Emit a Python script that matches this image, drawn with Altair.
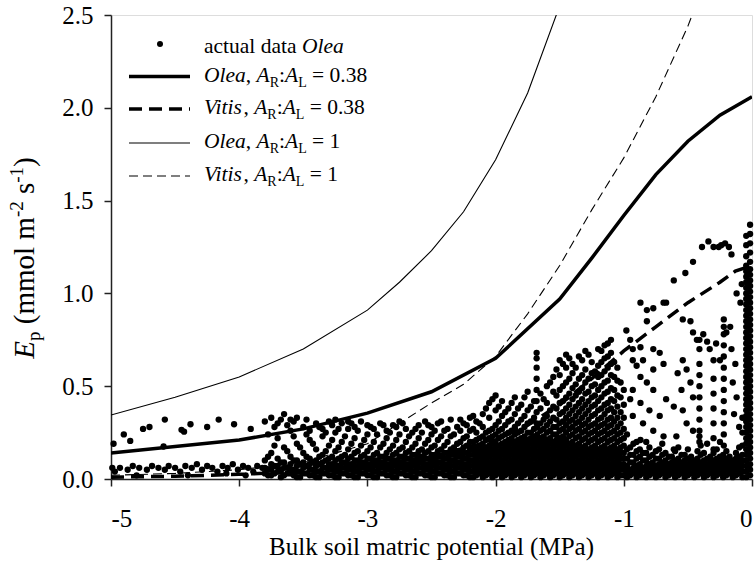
import altair as alt
import pandas as pd

# ---------------- model curves ----------------
OLEA_038_X = [-5, -4.5, -4, -3.5, -3, -2.5, -2, -1.5, -1.25, -1, -0.75, -0.5, -0.25, 0]
OLEA_038_Y = [0.14, 0.175, 0.21, 0.27, 0.355, 0.47, 0.65, 0.97, 1.19, 1.42, 1.64, 1.82, 1.96, 2.06]

VITIS_038_X = [-5, -4.5, -4, -3.5, -3, -2.5, -2, -1.75, -1.5, -1.25, -1, -0.75, -0.5, -0.25, -0.13, 0]
VITIS_038_Y = [0.01, 0.015, 0.025, 0.04, 0.07, 0.12, 0.21, 0.29, 0.40, 0.54, 0.69, 0.82, 0.95, 1.06, 1.12, 1.15]

OLEA_1_X = [-5, -4.5, -4, -3.5, -3, -2.75, -2.5, -2.25, -2, -1.75, -1.5]
OLEA_1_Y = [0.345, 0.44, 0.55, 0.70, 0.91, 1.06, 1.23, 1.44, 1.72, 2.08, 2.55]

VITIS_1_X = [-5, -4.5, -4, -3.5, -3, -2.75, -2.5, -2.25, -2, -1.75, -1.5, -1.25, -1, -0.75, -0.5, -0.4]
VITIS_1_Y = [0.02, 0.03, 0.05, 0.09, 0.19, 0.30, 0.41, 0.51, 0.66, 0.89, 1.15, 1.45, 1.73, 2.06, 2.44, 2.62]

# ---------------- measured points, Olea ----------------
LEFT_UPPER = [(-4.98, 0.19), (-4.90, 0.24), (-4.85, 0.205), (-4.75, 0.27), (-4.70, 0.28),
              (-4.58, 0.32), (-4.59, 0.175), (-4.45, 0.265), (-4.43, 0.255), (-4.38, 0.295),
              (-4.25, 0.28), (-4.16, 0.32), (-4.04, 0.295), (-3.91, 0.27)]

LEFT_BAND = [(-4.99, 0.06), (-4.97, 0.04), (-4.93, 0.06), (-4.87, 0.05), (-4.83, 0.07), (-4.78, 0.06),
             (-4.72, 0.05), (-4.68, 0.07), (-4.63, 0.06), (-4.58, 0.05), (-4.55, 0.07), (-4.50, 0.06),
             (-4.46, 0.04), (-4.42, 0.07), (-4.37, 0.06), (-4.33, 0.08), (-4.29, 0.05), (-4.25, 0.07),
             (-4.21, 0.06), (-4.17, 0.04), (-4.13, 0.07), (-4.09, 0.06), (-4.05, 0.08), (-4.01, 0.05),
             (-3.97, 0.07), (-3.93, 0.06), (-3.89, 0.04), (-3.86, 0.07), (-3.82, 0.06), (-4.80, 0.02),
             (-4.40, 0.02), (-4.10, 0.03), (-3.95, 0.02)]

MID_COLUMNS = [
    (-3.80, [0.03, 0.06, 0.10, 0.31]),
    (-3.75, [0.02, 0.05, 0.08, 0.14, 0.33]),
    (-3.70, [0.04, 0.07, 0.11, 0.22, 0.30]),
    (-3.65, [0.02, 0.06, 0.09, 0.17, 0.35]),
    (-3.60, [0.03, 0.05, 0.08, 0.12, 0.26, 0.32]),
    (-3.55, [0.01, 0.04, 0.07, 0.10, 0.19, 0.33]),
    (-3.50, [0.03, 0.06, 0.09, 0.14, 0.28]),
    (-3.45, [0.02, 0.05, 0.08, 0.11, 0.21, 0.26]),
    (-3.40, [0.01, 0.04, 0.07, 0.10, 0.16, 0.30]),
    (-3.35, [0.03, 0.06, 0.09, 0.13, 0.23, 0.27]),
    (-3.30, [0.02, 0.05, 0.08, 0.11, 0.18, 0.31]),
    (-3.25, [0.01, 0.04, 0.07, 0.10, 0.15, 0.25, 0.32]),
    (-3.20, [0.03, 0.06, 0.09, 0.12, 0.20, 0.30]),
    (-3.15, [0.02, 0.05, 0.08, 0.11, 0.16, 0.27, 0.31]),
    (-3.10, [0.01, 0.04, 0.07, 0.10, 0.14, 0.22, 0.28]),
    (-3.05, [0.03, 0.06, 0.09, 0.12, 0.18, 0.31]),
    (-3.00, [0.02, 0.05, 0.08, 0.11, 0.15, 0.24, 0.29]),
    (-2.95, [0.01, 0.04, 0.07, 0.10, 0.13, 0.20, 0.27]),
    (-2.90, [0.03, 0.06, 0.09, 0.12, 0.17, 0.30]),
    (-2.85, [0.02, 0.05, 0.08, 0.11, 0.14, 0.22, 0.26]),
    (-2.80, [0.01, 0.04, 0.07, 0.10, 0.13, 0.18, 0.29]),
    (-2.75, [0.03, 0.06, 0.09, 0.12, 0.16, 0.24, 0.31]),
    (-2.70, [0.02, 0.05, 0.08, 0.11, 0.14, 0.20, 0.27]),
    (-2.65, [0.01, 0.04, 0.07, 0.10, 0.13, 0.17, 0.25]),
    (-2.60, [0.03, 0.06, 0.09, 0.12, 0.15, 0.22, 0.29]),
    (-2.55, [0.02, 0.05, 0.08, 0.11, 0.14, 0.19, 0.31]),
    (-2.50, [0.01, 0.04, 0.07, 0.10, 0.13, 0.17, 0.24, 0.28]),
    (-2.45, [0.03, 0.06, 0.09, 0.12, 0.15, 0.21, 0.30]),
    (-2.40, [0.02, 0.05, 0.08, 0.11, 0.14, 0.18, 0.26]),
    (-2.35, [0.01, 0.04, 0.07, 0.10, 0.13, 0.16, 0.23, 0.32]),
    (-2.30, [0.03, 0.06, 0.09, 0.12, 0.15, 0.19, 0.28]),
    (-2.25, [0.02, 0.05, 0.08, 0.11, 0.14, 0.17, 0.22, 0.30]),
    (-2.20, [0.01, 0.04, 0.07, 0.10, 0.13, 0.16, 0.20, 0.26, 0.33]),
    (-2.15, [0.02, 0.05, 0.08, 0.11, 0.14, 0.17, 0.21, 0.25, 0.31]),
    (-2.10, [0.01, 0.04, 0.07, 0.10, 0.13, 0.16, 0.19, 0.23, 0.28, 0.35]),
    (-2.05, [0.03, 0.06, 0.09, 0.12, 0.15, 0.18, 0.22, 0.26, 0.33, 0.41]),
    (-2.00, [0.02, 0.05, 0.08, 0.11, 0.14, 0.17, 0.20, 0.24, 0.29, 0.37, 0.45]),
    (-1.95, [0.01, 0.04, 0.07, 0.10, 0.13, 0.16, 0.19, 0.23, 0.27, 0.34, 0.42]),
    (-1.90, [0.03, 0.06, 0.09, 0.12, 0.15, 0.18, 0.21, 0.25, 0.31, 0.38]),
    (-1.85, [0.02, 0.05, 0.08, 0.11, 0.14, 0.17, 0.20, 0.24, 0.28, 0.35, 0.44]),
    (-1.80, [0.01, 0.04, 0.07, 0.10, 0.13, 0.16, 0.19, 0.22, 0.26, 0.32, 0.40]),
    (-1.75, [0.03, 0.06, 0.09, 0.12, 0.15, 0.18, 0.21, 0.25, 0.30, 0.37, 0.47]),
    (-1.70, [0.02, 0.05, 0.08, 0.11, 0.14, 0.17, 0.20, 0.23, 0.27, 0.33, 0.42]),
    (-1.68, [0.30, 0.36, 0.42, 0.48, 0.54, 0.60, 0.65, 0.68]),
    (-1.65, [0.01, 0.04, 0.07, 0.10, 0.13, 0.16, 0.19, 0.22, 0.26, 0.30, 0.38, 0.46]),
    (-1.60, [0.03, 0.06, 0.09, 0.12, 0.15, 0.18, 0.21, 0.25, 0.29, 0.34, 0.41, 0.50]),
    (-1.55, [0.02, 0.05, 0.08, 0.11, 0.14, 0.17, 0.20, 0.24, 0.28, 0.33, 0.39, 0.47, 0.55]),
    (-1.50, [0.01, 0.04, 0.07, 0.10, 0.13, 0.16, 0.19, 0.22, 0.26, 0.30, 0.35, 0.41, 0.48, 0.56, 0.64]),
    (-1.45, [0.03, 0.06, 0.09, 0.12, 0.15, 0.18, 0.21, 0.25, 0.29, 0.33, 0.38, 0.44, 0.52, 0.60, 0.67]),
    (-1.40, [0.02, 0.05, 0.08, 0.11, 0.14, 0.17, 0.20, 0.24, 0.28, 0.32, 0.37, 0.43, 0.49, 0.57, 0.62]),
    (-1.35, [0.01, 0.04, 0.07, 0.10, 0.13, 0.16, 0.19, 0.23, 0.27, 0.31, 0.36, 0.41, 0.47, 0.54, 0.66]),
    (-1.30, [0.03, 0.06, 0.09, 0.12, 0.15, 0.18, 0.22, 0.26, 0.30, 0.35, 0.40, 0.46, 0.52, 0.59, 0.69]),
    (-1.25, [0.02, 0.05, 0.08, 0.11, 0.14, 0.17, 0.21, 0.25, 0.29, 0.34, 0.39, 0.44, 0.50, 0.57, 0.63]),
    (-1.20, [0.01, 0.04, 0.07, 0.10, 0.13, 0.16, 0.20, 0.24, 0.28, 0.32, 0.37, 0.42, 0.48, 0.55, 0.61, 0.70]),
    (-1.15, [0.03, 0.06, 0.09, 0.12, 0.15, 0.18, 0.22, 0.26, 0.30, 0.35, 0.40, 0.46, 0.52, 0.58, 0.65, 0.72]),
    (-1.10, [0.02, 0.05, 0.08, 0.11, 0.14, 0.17, 0.21, 0.25, 0.29, 0.33, 0.38, 0.43, 0.49, 0.56, 0.62, 0.68, 0.75]),
    (-1.05, [0.01, 0.04, 0.07, 0.10, 0.13, 0.16, 0.20, 0.24, 0.28, 0.33, 0.39, 0.45, 0.53, 0.60]),
    (-1.00, [0.02, 0.05, 0.08, 0.11, 0.14, 0.18, 0.22, 0.27, 0.33, 0.40, 0.48]),
]

MID_COLUMNS_B = [
    (-3.775, [0.02, 0.05, 0.12, 0.24]),
    (-3.725, [0.03, 0.07, 0.18, 0.28]),
    (-3.675, [0.01, 0.05, 0.09, 0.32]),
    (-3.625, [0.03, 0.06, 0.15, 0.29]),
    (-3.575, [0.02, 0.05, 0.10, 0.23, 0.31]),
    (-3.525, [0.01, 0.04, 0.08, 0.17]),
    (-3.475, [0.03, 0.07, 0.12, 0.24, 0.32]),
    (-3.425, [0.02, 0.05, 0.09, 0.19]),
    (-3.375, [0.01, 0.04, 0.08, 0.12, 0.28]),
    (-3.325, [0.03, 0.06, 0.10, 0.15, 0.25]),
    (-3.275, [0.02, 0.05, 0.08, 0.12, 0.21, 0.29]),
    (-3.225, [0.01, 0.04, 0.07, 0.11, 0.17, 0.27]),
    (-3.175, [0.03, 0.06, 0.09, 0.13, 0.23]),
    (-3.125, [0.02, 0.05, 0.08, 0.12, 0.19, 0.30]),
    (-3.075, [0.01, 0.04, 0.07, 0.10, 0.15, 0.26]),
    (-3.025, [0.03, 0.06, 0.09, 0.13, 0.21]),
    (-2.975, [0.02, 0.05, 0.08, 0.11, 0.17, 0.28]),
    (-2.925, [0.01, 0.04, 0.07, 0.10, 0.14, 0.24]),
    (-2.875, [0.03, 0.06, 0.09, 0.12, 0.19, 0.29]),
    (-2.825, [0.02, 0.05, 0.08, 0.11, 0.16, 0.25]),
    (-2.775, [0.01, 0.04, 0.07, 0.10, 0.14, 0.21, 0.28]),
    (-2.725, [0.03, 0.06, 0.09, 0.12, 0.17, 0.30]),
    (-2.675, [0.02, 0.05, 0.08, 0.11, 0.15, 0.23]),
    (-2.625, [0.01, 0.04, 0.07, 0.10, 0.13, 0.19, 0.27]),
    (-2.575, [0.03, 0.06, 0.09, 0.12, 0.16, 0.25]),
    (-2.525, [0.02, 0.05, 0.08, 0.11, 0.15, 0.21, 0.29]),
    (-2.475, [0.01, 0.04, 0.07, 0.10, 0.13, 0.18, 0.26]),
    (-2.425, [0.03, 0.06, 0.09, 0.12, 0.16, 0.23, 0.31]),
    (-2.375, [0.02, 0.05, 0.08, 0.11, 0.14, 0.20, 0.27]),
    (-2.325, [0.01, 0.04, 0.07, 0.10, 0.13, 0.17, 0.24]),
    (-2.275, [0.03, 0.06, 0.09, 0.12, 0.15, 0.20, 0.26, 0.32]),
    (-2.225, [0.02, 0.05, 0.08, 0.11, 0.14, 0.18, 0.23, 0.29]),
    (-2.175, [0.01, 0.04, 0.07, 0.10, 0.13, 0.16, 0.20, 0.27, 0.34]),
    (-2.125, [0.03, 0.06, 0.09, 0.12, 0.15, 0.18, 0.22, 0.30]),
    (-2.075, [0.02, 0.05, 0.08, 0.11, 0.14, 0.17, 0.21, 0.25, 0.38]),
    (-2.025, [0.01, 0.04, 0.07, 0.10, 0.13, 0.16, 0.19, 0.23, 0.27, 0.43]),
    (-1.975, [0.03, 0.06, 0.09, 0.12, 0.15, 0.18, 0.22, 0.26, 0.31, 0.39]),
    (-1.925, [0.02, 0.05, 0.08, 0.11, 0.14, 0.17, 0.20, 0.24, 0.29, 0.36]),
    (-1.875, [0.01, 0.04, 0.07, 0.10, 0.13, 0.16, 0.19, 0.22, 0.26, 0.32, 0.41]),
    (-1.825, [0.03, 0.06, 0.09, 0.12, 0.15, 0.18, 0.21, 0.25, 0.30, 0.38]),
    (-1.775, [0.02, 0.05, 0.08, 0.11, 0.14, 0.17, 0.20, 0.23, 0.28, 0.34, 0.44]),
    (-1.725, [0.01, 0.04, 0.07, 0.10, 0.13, 0.16, 0.19, 0.22, 0.25, 0.31, 0.39]),
    (-1.675, [0.03, 0.06, 0.09, 0.12, 0.15, 0.18, 0.21, 0.24, 0.28]),
    (-1.625, [0.02, 0.05, 0.08, 0.11, 0.14, 0.17, 0.20, 0.23, 0.27, 0.32, 0.43]),
    (-1.575, [0.01, 0.04, 0.07, 0.10, 0.13, 0.16, 0.19, 0.22, 0.26, 0.31, 0.37, 0.52]),
    (-1.525, [0.03, 0.06, 0.09, 0.12, 0.15, 0.18, 0.21, 0.24, 0.28, 0.32, 0.38, 0.45, 0.59]),
    (-1.475, [0.02, 0.05, 0.08, 0.11, 0.14, 0.17, 0.20, 0.23, 0.27, 0.31, 0.36, 0.42, 0.50, 0.62]),
    (-1.425, [0.01, 0.04, 0.07, 0.10, 0.13, 0.16, 0.19, 0.23, 0.27, 0.31, 0.35, 0.40, 0.46, 0.54, 0.65]),
    (-1.375, [0.03, 0.06, 0.09, 0.12, 0.15, 0.18, 0.22, 0.26, 0.30, 0.34, 0.39, 0.45, 0.51, 0.60]),
    (-1.325, [0.02, 0.05, 0.08, 0.11, 0.14, 0.17, 0.21, 0.25, 0.29, 0.33, 0.38, 0.43, 0.49, 0.56, 0.64]),
    (-1.275, [0.01, 0.04, 0.07, 0.10, 0.13, 0.16, 0.20, 0.24, 0.28, 0.32, 0.37, 0.42, 0.47, 0.54, 0.67]),
    (-1.225, [0.03, 0.06, 0.09, 0.12, 0.15, 0.18, 0.22, 0.26, 0.30, 0.35, 0.40, 0.45, 0.51, 0.58]),
    (-1.175, [0.02, 0.05, 0.08, 0.11, 0.14, 0.17, 0.21, 0.25, 0.29, 0.33, 0.38, 0.44, 0.50, 0.56, 0.63, 0.69]),
    (-1.125, [0.01, 0.04, 0.07, 0.10, 0.13, 0.16, 0.20, 0.24, 0.28, 0.32, 0.37, 0.41, 0.47, 0.53, 0.60, 0.66, 0.73]),
    (-1.075, [0.03, 0.06, 0.09, 0.12, 0.15, 0.18, 0.22, 0.26, 0.31, 0.36, 0.42, 0.48, 0.55, 0.63]),
    (-1.025, [0.02, 0.05, 0.08, 0.11, 0.14, 0.17, 0.21, 0.25, 0.30, 0.36, 0.44, 0.52]),
]

WET_BOTTOM_COLUMNS = [
    (-0.975, [0.01, 0.04, 0.07, 0.11, 0.16, 0.24]),
    (-0.95, [0.02, 0.05, 0.09, 0.13, 0.17]),
    (-0.925, [0.03, 0.06, 0.09, 0.13, 0.19]),
    (-0.90, [0.01, 0.04, 0.07, 0.11, 0.15, 0.20]),
    (-0.875, [0.02, 0.05, 0.08, 0.12, 0.16]),
    (-0.85, [0.03, 0.06, 0.10, 0.14]),
    (-0.825, [0.01, 0.04, 0.07, 0.10, 0.14, 0.20]),
    (-0.80, [0.02, 0.05, 0.08, 0.12, 0.17]),
    (-0.775, [0.03, 0.06, 0.09, 0.13]),
    (-0.75, [0.01, 0.04, 0.07, 0.11, 0.15]),
    (-0.725, [0.02, 0.05, 0.08, 0.11, 0.16]),
    (-0.70, [0.03, 0.06, 0.09, 0.13, 0.19]),
    (-0.675, [0.01, 0.04, 0.07, 0.10, 0.14]),
    (-0.65, [0.02, 0.05, 0.08, 0.12]),
    (-0.625, [0.03, 0.06, 0.09, 0.12]),
    (-0.60, [0.01, 0.04, 0.07, 0.10, 0.15]),
    (-0.575, [0.02, 0.05, 0.08, 0.11, 0.17]),
    (-0.55, [0.03, 0.06, 0.09, 0.13]),
    (-0.525, [0.01, 0.04, 0.07, 0.10, 0.13]),
    (-0.50, [0.02, 0.05, 0.08, 0.11, 0.16]),
    (-0.475, [0.03, 0.06, 0.09, 0.12]),
    (-0.45, [0.01, 0.04, 0.07, 0.10]),
    (-0.425, [0.02, 0.05, 0.08, 0.11, 0.15]),
    (-0.40, [0.03, 0.06, 0.09, 0.13, 0.18]),
    (-0.375, [0.01, 0.04, 0.07, 0.10, 0.14]),
    (-0.35, [0.02, 0.05, 0.08, 0.11]),
    (-0.325, [0.03, 0.06, 0.09, 0.12]),
    (-0.30, [0.01, 0.04, 0.07, 0.10, 0.14]),
    (-0.275, [0.02, 0.05, 0.08, 0.11, 0.16]),
    (-0.25, [0.03, 0.06, 0.09, 0.12]),
    (-0.225, [0.01, 0.04, 0.07, 0.10, 0.13]),
    (-0.20, [0.02, 0.05, 0.08, 0.11, 0.15]),
    (-0.175, [0.03, 0.06, 0.09, 0.12]),
    (-0.15, [0.01, 0.04, 0.07, 0.10]),
    (-0.125, [0.02, 0.05, 0.08, 0.11, 0.14]),
    (-0.10, [0.03, 0.06, 0.09, 0.12, 0.17]),
    (-0.075, [0.01, 0.04, 0.07, 0.10, 0.13, 0.18, 0.25, 0.33]),
    (-0.41, [0.20, 0.26, 0.32, 0.38, 0.44, 0.50, 0.56, 0.62, 0.70, 0.75]),
    (-0.30, [0.22, 0.30, 0.38, 0.46, 0.54, 0.64]),
    (-0.22, [0.18, 0.24, 0.30, 0.36, 0.42, 0.48, 0.54, 0.60, 0.66, 0.72, 0.78, 0.82, 0.86]),
    (-0.045, [0.01, 0.04, 0.07, 0.10, 0.13, 0.16, 0.19, 0.22, 0.25, 0.28, 0.31, 0.34, 0.37, 0.40,
              0.43, 0.46, 0.49, 0.52, 0.55, 0.58, 0.61, 0.64, 0.67, 0.70, 0.73, 0.76, 0.79, 0.82,
              0.85, 0.88, 0.91, 0.94, 0.97, 1.00, 1.03, 1.06, 1.09, 1.12, 1.15, 1.20, 1.26, 1.31]),
    (-0.015, [0.02, 0.05, 0.08, 0.11, 0.14, 0.17, 0.20, 0.23, 0.26, 0.29, 0.32, 0.35, 0.38, 0.41,
              0.44, 0.47, 0.50, 0.53, 0.56, 0.59, 0.62, 0.65, 0.68, 0.71, 0.74, 0.77, 0.80, 0.83,
              0.86, 0.89, 0.92, 0.95, 0.98, 1.01, 1.04, 1.07, 1.10, 1.13, 1.17, 1.22, 1.27, 1.32, 1.37]),
]

WET_SCATTER = [(-0.93, 0.70), (-0.87, 0.95), (-0.82, 0.91), (-0.77, 0.92), (-0.69, 0.95), (-0.67, 0.95),
               (-0.82, 0.85), (-0.98, 0.80), (-0.95, 0.75), (-0.87, 0.71), (-0.93, 0.64), (-0.90, 0.61),
               (-0.85, 0.64), (-0.77, 0.70), (-0.72, 0.68), (-0.69, 0.62), (-0.77, 0.59), (-0.87, 0.55),
               (-0.82, 0.52), (-0.77, 0.48), (-0.93, 0.48), (-0.95, 0.43), (-0.87, 0.41), (-0.80, 0.37),
               (-0.72, 0.34), (-0.67, 0.43), (-0.61, 0.39), (-0.93, 0.34), (-0.85, 0.30), (-0.77, 0.26),
               (-0.69, 0.23), (-0.87, 0.21), (-0.54, 0.86), (-0.48, 0.85), (-0.46, 0.79), (-0.43, 0.75),
               (-0.38, 0.78), (-0.35, 0.74), (-0.33, 0.70), (-0.28, 0.73), (-0.25, 0.64), (-0.20, 0.79),
               (-0.17, 0.82), (-0.54, 0.64), (-0.51, 0.59), (-0.48, 0.52), (-0.46, 0.44), (-0.54, 0.37),
               (-0.51, 0.30), (-0.46, 0.26), (-0.41, 0.23), (-0.35, 0.19), (-0.30, 0.16), (-0.25, 0.20),
               (-0.59, 0.23), (-0.61, 0.16), (-0.55, 0.48), (-0.58, 0.57), (-0.15, 0.52), (-0.12, 0.44),
               (-0.14, 0.35), (-0.10, 0.28), (-0.13, 0.62), (-0.16, 0.70), (-0.61, 1.07), (-0.52, 1.11),
               (-0.46, 1.17), (-0.39, 1.25), (-0.34, 1.28), (-0.30, 1.25), (-0.26, 1.25), (-0.24, 1.26),
               (-0.21, 1.27), (-0.18, 1.25), (-0.16, 1.21), (-0.12, 1.00), (-0.09, 0.95), (-0.08, 1.05)]

X_TICKS = [-5, -4, -3, -2, -1, 0]
Y_TICKS = [0.0, 0.5, 1.0, 1.5, 2.0, 2.5]

FONT = "Liberation Serif"

# ---------------- assemble tables ----------------
pts = list(LEFT_UPPER) + list(LEFT_BAND) + list(WET_SCATTER)
for cx, ys in MID_COLUMNS + MID_COLUMNS_B + WET_BOTTOM_COLUMNS:
    pts += [(cx, yy) for yy in ys]
points = pd.DataFrame(pts, columns=["psi", "E"])


def curve(xs, ys):
    return pd.DataFrame({"psi": xs, "E": ys})


xscale = alt.Scale(domain=[-5, 0], nice=False, zero=False)
yscale = alt.Scale(domain=[0, 2.5], nice=False, zero=False)

xaxis = alt.Axis(values=X_TICKS, title=None, grid=False, labelFont=FONT, labelFontSize=25,
                 labelColor="black", tickColor="#222", domainColor="#222", tickSize=7,
                 tickWidth=1.5, domainWidth=1.5, labelPadding=20,
                 labelExpr="datum.value == 0 ? '0' : '-' + abs(datum.value)")
yaxis = alt.Axis(values=Y_TICKS, title=None, grid=False, labelFont=FONT, labelFontSize=25,
                 labelColor="black", tickColor="#222", domainColor="#222", tickSize=7,
                 tickWidth=1.5, domainWidth=1.5, labelPadding=11, format=".1f")

scatter = alt.Chart(points).mark_circle(size=40, color="black", opacity=1).encode(
    x=alt.X("psi:Q", scale=xscale, axis=xaxis),
    y=alt.Y("E:Q", scale=yscale, axis=yaxis),
)


def line(df, width, dash=None):
    kw = dict(color="black", strokeWidth=width, clip=True)
    if dash:
        kw["strokeDash"] = dash
    return alt.Chart(df).mark_line(**kw).encode(
        x=alt.X("psi:Q", scale=xscale), y=alt.Y("E:Q", scale=yscale))


lines = [
    line(curve(OLEA_038_X, OLEA_038_Y), 3.5),
    line(curve(VITIS_038_X, VITIS_038_Y), 3.5, [13, 7]),
    line(curve(OLEA_1_X, OLEA_1_Y), 1.1),
    line(curve(VITIS_1_X, VITIS_1_Y), 1.1, [9, 5]),
]

ONE = alt.Data(values=[{"k": 1}])


def seg(text, x, y, size=21.5, italic=False, angle=0, align="left"):
    kw = dict(font=FONT, fontSize=size, color="black", align=align, baseline="alphabetic")
    if italic:
        kw["fontStyle"] = "italic"
    if angle:
        kw["angle"] = angle
    return alt.Chart(ONE).mark_text(**kw).encode(
        x=alt.value(x), y=alt.value(y), text=alt.value(text))


def rule(x1, x2, y, width, dash=None):
    kw = dict(color="black", strokeWidth=width)
    if dash:
        kw["strokeDash"] = dash
    return alt.Chart(ONE).mark_rule(**kw).encode(
        x=alt.value(x1), x2=alt.value(x2), y=alt.value(y))


# legend (plot-relative pixels); widths from Times/Liberation Serif metrics (1/1000 em)
LS = 21.5          # legend font size
SS = 14            # subscript size
LX0, LX1, TX = 18, 79, 93
ROWS = [29, 61.5, 94, 128, 161]
legend = []
legend.append(alt.Chart(ONE).mark_circle(size=36, color="black", opacity=1).encode(
    x=alt.value(49), y=alt.value(ROWS[0])))
legend.append(seg("actual data", TX, ROWS[0] + 9, size=LS))
legend.append(seg("Olea", TX + 4554 * LS / 1000, ROWS[0] + 9, size=LS, italic=True))


def ratio_label(genus, value, base):
    gw = {"Olea": 1944, "Vitis": 1834}[genus] * LS / 1000
    out = [seg(genus, TX, base, size=LS, italic=True)]
    x = TX + gw
    out.append(seg(",", x, base, size=LS)); x += 500 * LS / 1000
    out.append(seg("A", x, base, size=LS, italic=True)); x += 611 * LS / 1000
    out.append(seg("R", x, base + 5, size=SS)); x += 667 * SS / 1000
    out.append(seg(":", x, base, size=LS)); x += 278 * LS / 1000
    out.append(seg("A", x, base, size=LS, italic=True)); x += 611 * LS / 1000
    out.append(seg("L", x, base + 5, size=SS)); x += 611 * SS / 1000 + 250 * LS / 1000
    out.append(seg("= " + value, x, base, size=LS))
    return out


legend.append(rule(LX0, LX1, ROWS[1], 3.5))
legend += ratio_label("Olea", "0.38", ROWS[1] + 5)
legend.append(rule(LX0, LX1, ROWS[2], 3.5, [13, 7]))
legend += ratio_label("Vitis", "0.38", ROWS[2] + 5)
legend.append(rule(LX0, LX1, ROWS[3], 1.1))
legend += ratio_label("Olea", "1", ROWS[3] + 5)
legend.append(rule(LX0, LX1, ROWS[4], 1.1, [9, 5]))
legend += ratio_label("Vitis", "1", ROWS[4] + 5)

# axis titles
titles = [seg("Bulk soil matric potential (MPa)", 320.5, 540, size=25, align="center")]
TF = 29            # y-title font size
TS = 19            # its sub/superscript size
YB = -77           # baseline (plot-relative x) of the rotated y title
yy = 243 + 0.5 * (611 * TF + 500 * TS + 250 * TF + 3695 * TF + 833 * TS + 250 * TF + 389 * TF + 833 * TS + 333 * TF) / 1000
titles.append(seg("E", YB, yy, size=TF, italic=True, angle=270)); yy -= 611 * TF / 1000
titles.append(seg("p", YB + 6, yy, size=TS, angle=270)); yy -= 500 * TS / 1000 + 250 * TF / 1000
titles.append(seg("(mmol m", YB, yy, size=TF, angle=270)); yy -= 3695 * TF / 1000
titles.append(seg("-2", YB - 11, yy, size=TS, angle=270)); yy -= 833 * TS / 1000 + 250 * TF / 1000
titles.append(seg("s", YB, yy, size=TF, angle=270)); yy -= 389 * TF / 1000
titles.append(seg("-1", YB - 11, yy, size=TS, angle=270)); yy -= 833 * TS / 1000
titles.append(seg(")", YB, yy, size=TF, angle=270))

chart = alt.layer(scatter, *lines, *legend, *titles).properties(
    width=641, height=464,
    autosize=alt.AutoSizeParams(type="none"),
    padding={"left": 111, "top": 15, "right": 3, "bottom": 89},
).configure_view(stroke="#222", strokeWidth=1.5).configure(background="white")

chart.save("out.html", embed_options={"renderer": "svg", "actions": False})
